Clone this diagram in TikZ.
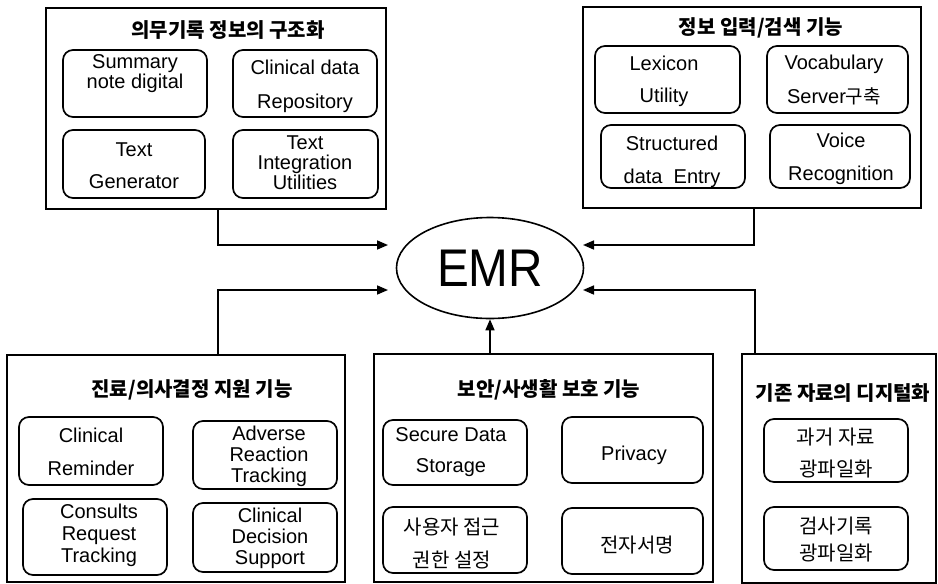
\documentclass[tikz,border=0pt]{standalone}
\usepackage{fontspec}
\setmainfont{Liberation Sans}
\newfontfamily\kr{Noto Sans CJK KR}
\usetikzlibrary{arrows.meta,fit,shapes.geometric}

\tikzset{
  x=1pt, y=-1pt,
  frame/.style={draw, line width=1.7pt, inner sep=0pt},
  ibox/.style={draw, line width=1.7pt, rounded corners=10pt, inner sep=0pt},
  lt/.style={align=center, inner sep=0pt, font=\fontsize{20}{21}\selectfont},
  kt/.style={align=center, inner sep=0pt, font=\kr\fontsize{20}{21}\selectfont},
  ttl/.style={inner sep=0pt, font=\kr\bfseries\fontsize{20}{21}\selectfont},
  link/.style={line width=1.6pt, -{Triangle[length=11pt,width=9pt]}},
}

\begin{document}
\begin{tikzpicture}
\useasboundingbox (0,0) rectangle (938,584);

% ---- central record ----
\node[draw, ellipse, line width=1.6pt, minimum width=187pt, minimum height=101pt, inner sep=0pt]
  (emr) at (490,268) {\fontsize{53}{53}\selectfont\scalebox{0.9}[1]{EMR}};

% ---- group frames ----
\node[frame, fit={(46,8) (386,209)}] (tl) {};
\node[frame, fit={(583,7) (921,208)}] (tr) {};
\node[frame, fit={(7,355) (345,582)}] (bl) {};
\node[frame, fit={(374,354) (713,582)}] (bm) {};
\node[frame, fit={(742,354) (936,583)}] (br) {};

% ---- group titles ----
\node[ttl] (tlT) at (228,30) {의무기록 정보의 구조화};
\node[ttl] (trT) at (761,28) {정보 입력/검색 기능};
\node[ttl] (blT) at (192,390) {진료/의사결정 지원 기능};
\node[ttl] (bmT) at (549,390) {보안/사생활 보호 기능};
\node[ttl] (brT) at (843,393) {기존 자료의 디지털화};

% ---- medical record structuring ----
\node[ibox, fit={(63,50) (207,117)}] (sum) {};
\node[ibox, fit={(233,50) (377,117)}] (cdr) {};
\node[ibox, fit={(63,130) (205,198)}] (tg) {};
\node[ibox, fit={(233,130) (378,198)}] (tiu) {};
\node[lt] (sumT) at (135,74) {Summary\\[-1pt]note digital};
\node[lt] (cdrT) at (305,86) {Clinical data\\[13pt]Repository};
\node[lt] (tgT) at (134,166) {Text\\[11pt]Generator};
\node[lt] (tiuT) at (305,163) {Text\\[-1pt]Integration\\[-1pt]Utilities};

% ---- input / retrieval ----
\node[ibox, fit={(595,46) (740,113)}] (lex) {};
\node[ibox, fit={(767,46) (908,113)}] (voc) {};
\node[ibox, fit={(601,125) (745,188)}] (str) {};
\node[ibox, fit={(770,125) (910,188)}] (voi) {};
\node[lt] (lexT) at (664,81) {Lexicon\\[11pt]Utility};
\node[lt] (vocT) at (834,80) {Vocabulary\\[13pt]Server{\kr\fontsize{19}{21}\selectfont 구축}};
\node[lt] (strT) at (672,161.5) {Structured\\[12pt]data~~Entry};
\node[lt] (voiT) at (841,158.5) {Voice\\[12pt]Recognition};

% ---- clinical decision support ----
\node[ibox, fit={(19,417) (163,485)}] (cr) {};
\node[ibox, fit={(193,421) (337,489)}] (art) {};
\node[ibox, fit={(23,499) (167,575)}] (crt) {};
\node[ibox, fit={(193,503) (337,572)}] (cds) {};
\node[lt] (crT) at (91,451.5) {Clinical\\[12pt]Reminder};
\node[lt] (artT) at (269,456.5) {Adverse\\Reaction\\Tracking};
\node[lt] (crtT) at (99,535) {Consults\\[1pt]Request\\[1pt]Tracking};
\node[lt] (cdsT) at (270,538.5) {Clinical\\Decision\\Support};

% ---- security / privacy ----
\node[ibox, fit={(383,420) (527,485)}] (sds) {};
\node[ibox, fit={(562,417) (703,483)}] (prv) {};
\node[ibox, fit={(383,507) (527,573)}] (uac) {};
\node[ibox, fit={(562,508) (703,574)}] (es) {};
\node[lt] (sdsT) at (451,452.5) {Secure Data\\[10pt]Storage};
\node[lt] (prvT) at (634,455) {Privacy};
\node[kt] (uacT) at (452,543.5) {사용자 접근\\[12pt]권한 설정};
\node[kt] (esT) at (637,545) {전자서명};

% ---- digitising legacy records ----
\node[ibox, fit={(764,419) (908,482)}] (p1) {};
\node[ibox, fit={(764,507) (908,570)}] (p2) {};
\node[kt] (p1T) at (836,453) {과거 자료\\[11pt]광파일화};
\node[kt] (p2T) at (836,539.5) {검사기록\\[6pt]광파일화};

% ---- connectors into EMR ----
\coordinate (inUL) at (388,245);
\coordinate (inUR) at (583,245);
\coordinate (inLL) at (388,290);
\coordinate (inLR) at (583,290);
\coordinate (kUL) at (218,245);
\coordinate (kUR) at (754,245);
\coordinate (kLL) at (218,290);
\coordinate (kLR) at (755,290);

\draw[link] (kUL |- tl.south) -- (kUL) -- (inUL);
\draw[link] (kUR |- tr.south) -- (kUR) -- (inUR);
\draw[link] (kLL |- bl.north) -- (kLL) -- (inLL);
\draw[link] (kLR |- br.north) -- (kLR) -- (inLR);
\draw[link] (emr.south |- bm.north) -- (emr.south);
\end{tikzpicture}
\end{document}
